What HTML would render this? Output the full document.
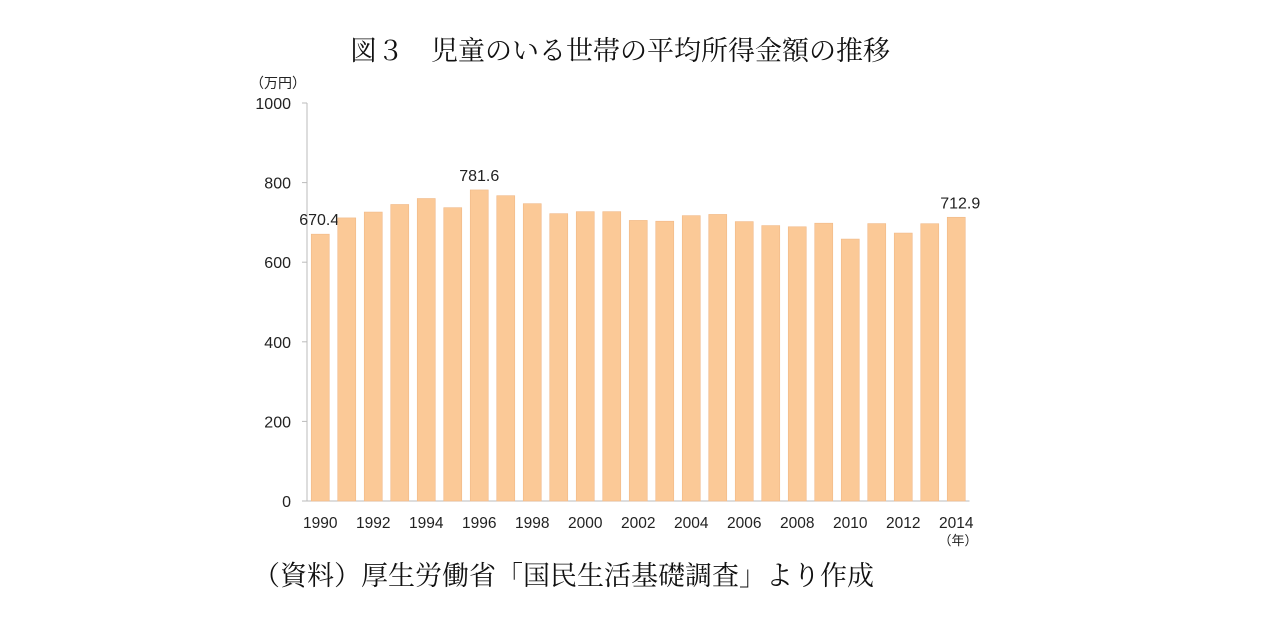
<!DOCTYPE html>
<html><head><meta charset="utf-8"><style>
body{margin:0;background:#fff;width:1282px;height:615px;overflow:hidden;font-family:"Liberation Sans","Noto Sans CJK JP",sans-serif}
</style></head><body>
<svg width="1282" height="615">
<text x="620" y="60" text-anchor="middle" font-family="'Noto Serif CJK SC',serif" font-size="27" fill="#111">図３　児童のいる世帯の平均所得金額の推移</text>
<text x="278" y="88" text-anchor="middle" font-size="14" fill="#222">（万円）</text>
<text x="958" y="545" text-anchor="middle" font-size="13" fill="#222">（年）</text>
<text x="253" y="585" font-family="'Noto Serif CJK SC',serif" font-size="27" fill="#111">（資料）厚生労働省「国民生活基礎調査」より作成</text>
<g id="plot"></g>
</svg>
<script>
const years=[1990,1991,1992,1993,1994,1995,1996,1997,1998,1999,2000,2001,2002,2003,2004,2005,2006,2007,2008,2009,2010,2011,2012,2013,2014];
const values=[670.4,711.3,726,745,760,737,781.6,767.1,747,722,727,727,705,703,717,720,702,692,689,698,658.1,697,673.2,696.7,712.9];
const yTicks=[0,200,400,600,800,1000];
const labeled=[1990,1996,2014];
const NS="http://www.w3.org/2000/svg";
const g=document.getElementById('plot');
const x0=307,slot=26.5,yb=501,ys=0.398;
const Y=v=>yb-v*ys, X=i=>x0+slot*(i+0.5);
function mk(t,a){const e=document.createElementNS(NS,t);for(const k in a)e.setAttribute(k,a[k]);g.appendChild(e);return e;}
let ax=mk('line',{x1:x0,y1:Y(1000),x2:x0,y2:yb,stroke:'#bbb'});


let bx=mk('line',{x1:x0,y1:yb,x2:x0+slot*years.length,y2:yb,stroke:'#bbb'});


yTicks.forEach(v=>{
 const l=mk('line',{x1:x0-5,y1:Y(v),x2:x0,y2:Y(v),stroke:'#bbb'});
 
 
 const t=mk('text',{x:291,y:Y(v)+6,'text-anchor':'end','font-size':'16',fill:'#222'});
 t.textContent=v;
 
 
});
years.forEach((yr,i)=>{
 const v=values[i];
 const r=mk('rect',{x:X(i)-9,y:Y(v),width:18,height:v*ys,fill:'#fbc997',stroke:'#f0b988','stroke-width':0.6});
 
 
 if(i%2===0){
  const t=mk('text',{x:X(i),y:528,'text-anchor':'middle','font-size':'15.5',fill:'#222'});
  t.textContent=yr;
  
  
 }
 if(labeled.includes(yr)){
  const t=mk('text',{x:X(i)+(yr===1990?-1:(yr===2014?4:0)),y:Y(v)-9,'text-anchor':'middle','font-size':'16',fill:'#222'});
  t.textContent=v.toFixed(1);
  
  
 }
});
</script>
</body></html>
